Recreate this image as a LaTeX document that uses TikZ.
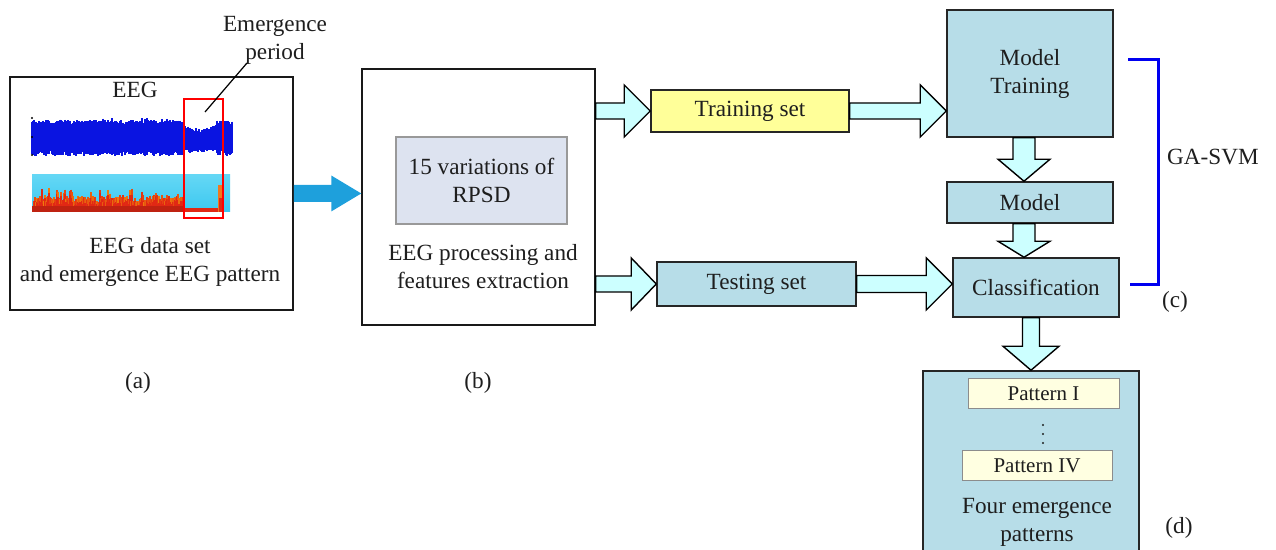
\documentclass[tikz,border=0pt]{standalone}
\usepackage{fontspec}
\setmainfont{Liberation Serif}
\usetikzlibrary{calc}
\definecolor{boxblue}{RGB}{183,221,232}
\definecolor{arrcyan}{RGB}{204,255,255}
\definecolor{trainyellow}{RGB}{255,255,153}
\definecolor{patyellow}{RGB}{255,255,225}
\definecolor{rpsdfill}{RGB}{221,227,240}
\definecolor{bigarrow}{RGB}{30,160,220}
\definecolor{eegblue}{RGB}{10,20,225}
\definecolor{speccyan}{RGB}{60,200,240}
\definecolor{speccyanlight}{RGB}{100,215,245}
\definecolor{specred}{RGB}{225,40,20}
\definecolor{specorange}{RGB}{240,120,30}
\definecolor{txt}{RGB}{30,30,30}
\definecolor{bracketblue}{RGB}{0,0,240}
% horizontal block arrow: style, start, tip, body half, head half, head length
\newcommand\rblock[6]{\path[#1] let \p1=(#2), \p2=(#3) in
  (\x1,\y1+#4) -- (\x2-#6,\y1+#4) -- (\x2-#6,\y1+#5) -- (\x2,\y1) --
  (\x2-#6,\y1-#5) -- (\x2-#6,\y1-#4) -- (\x1,\y1-#4) -- cycle;}
% downward block arrow
\newcommand\dblock[6]{\path[#1] let \p1=(#2), \p2=(#3) in
  (\x1-#4,\y1) -- (\x1-#4,\y2+#6) -- (\x1-#5,\y2+#6) -- (\x1,\y2) --
  (\x1+#5,\y2+#6) -- (\x1+#4,\y2+#6) -- (\x1+#4,\y1) -- cycle;}
\tikzset{
  lbl/.style={font=\fontsize{11.6}{14}\selectfont, text=txt, align=center, inner sep=0pt},
  whitebox/.style={draw=black!90, line width=0.75pt, fill=white, inner sep=0pt},
  bluebox/.style={draw=black!85, line width=0.75pt, fill=boxblue, inner sep=0pt, font=\fontsize{11.6}{14}\selectfont, text=txt, align=center},
  patbox/.style={draw=black!45, line width=0.5pt, fill=patyellow, inner sep=0pt, font=\fontsize{10.5}{12}\selectfont, text=txt},
  lightarrow/.style={fill=arrcyan, draw=black, line width=0.7pt, line join=miter},
  bigblue/.style={fill=bigarrow},
}
\begin{document}
\begin{tikzpicture}[x=0.5pt,y=-0.5pt]
\useasboundingbox (0,0) rectangle (1276,550);
\clip (0,0) rectangle (1276,550);

% (a) box
\node[whitebox, minimum width=141.5pt, minimum height=116.5pt] (a) at (151.5,193.5) {};
\node[lbl] (eeg) at (135,90) {EEG};
\pgfmathsetseed{3}
\foreach \i in {32,...,232} {
  \pgfmathsetmacro\inn{(\i>182 && \i<217) ? 1 : 0}
  \pgfmathsetmacro\sp{rnd<0.15 ? 2 : 0}
  \pgfmathsetmacro\tp{\inn*(124+4*sin(5.14*(\i-182))+4*rnd) + (1-\inn)*(120+4*rnd-\sp)}
  \pgfmathsetmacro\bt{\inn*(149+4*rnd) + (1-\inn)*(151+5*rnd)}
  \draw[eegblue, line width=0.6pt] (\i,\tp) -- (\i,\bt);
}
\fill[black] (32,118) circle (1.2) (32,137) circle (1.2) (32,155) circle (1.2);
\shade[top color=speccyanlight, bottom color=speccyan] (32,175) rectangle (230,212);
\foreach \i in {34,...,184} {
  \pgfmathsetmacro\sp{rnd<0.08 ? 7 : 0}
  \pgfmathsetmacro\tp{195+7*rnd-\sp}
  \pgfmathsetmacro\mix{60+40*rnd}
  \draw[specred!\mix!yellow, line width=0.6pt] (\i,\tp) -- (\i,211);
  \pgfmathsetmacro\tq{\tp+3+4*rnd}
  \draw[specred, line width=0.6pt] (\i,\tq) -- (\i,211);
}
\fill[specred!85!black] (32,206) rectangle (185,212);
\fill[specred] (185,208) rectangle (219,212);
\fill[specorange] (218,185) rectangle (222,212);
\fill[specred] (219,198) rectangle (222,212);
\draw[red, line width=0.8pt] (184,99) rectangle (223,218);
\node[lbl] (emer) at (275,40) {Emergence\\period};
\coordinate (emerend) at (205,112);
\draw[black, line width=0.6pt] (247,63) -- (emerend);
\node[lbl] (adesc) at (150,262) {EEG data set\\and emergence EEG pattern};

% (b) box
\node[whitebox, minimum width=116.5pt, minimum height=128pt] (b) at (478.5,197) {};
\node[draw=black!40, line width=0.6pt, fill=rpsdfill, minimum width=85.5pt, minimum height=43.5pt, lbl] (rpsd) at (481.5,180.5) {15 variations of\\RPSD};
\node[lbl] (bdesc) at (483,267) {EEG processing and\\features extraction};

% right column
\node[draw=black!85, line width=0.75pt, fill=trainyellow, minimum width=99pt, minimum height=21pt, lbl] (train) at (750,111) {Training set};
\node[bluebox, minimum width=99.5pt, minimum height=22pt] (test) at (756.5,284) {Testing set};
\node[bluebox, minimum width=83pt, minimum height=63.5pt] (mt) at (1030,73.5) {Model\\Training};
\node[bluebox, minimum width=83pt, minimum height=20.5pt] (m) at (1030,202.5) {Model};
\node[bluebox, minimum width=83pt, minimum height=29.5pt] (cls) at (1036,287.5) {Classification};
\node[bluebox, minimum width=108pt, minimum height=92.5pt] (out) at (1031,463.5) {};
\node[patbox, minimum width=75.5pt, minimum height=15pt] (p1) at (1043.5,394) {Pattern I};
\fill[txt] (1043,425) circle (1.1) (1043,434) circle (1.1) (1043,443) circle (1.1);
\node[patbox, minimum width=75pt, minimum height=15pt] (p4) at (1037,466) {Pattern IV};
\node[lbl] (odesc) at (1037,522) {Four emergence\\patterns};

% arrows
\rblock{bigblue}{a.east}{b.west}{4.25pt}{9pt}{15pt}
\rblock{lightarrow}{b.east |- train.west}{train.west}{4pt}{13pt}{13pt}
\rblock{lightarrow}{train.east}{train.east -| mt.west}{4pt}{13pt}{13pt}
\rblock{lightarrow}{b.east |- test.west}{test.west}{4pt}{13pt}{12.5pt}
\rblock{lightarrow}{test.east}{test.east -| cls.west}{4.25pt}{13pt}{13pt}
\dblock{lightarrow}{[xshift=-3pt]mt.south}{[xshift=-3pt]m.north}{5.5pt}{13pt}{11pt}
\dblock{lightarrow}{[xshift=-3pt]m.south}{[xshift=-3pt]cls.north}{5.5pt}{13pt}{8pt}
\dblock{lightarrow}{[xshift=-2.5pt]cls.south}{out.north}{4.25pt}{14pt}{12pt}

% GA-SVM bracket
\coordinate (brtop) at (1128,60);
\coordinate (brbot) at (1130,285);
\draw[bracketblue, line width=1.5pt] (brtop) -- (1158,60) -- (1158,285) -- (brbot);
\node[lbl] (ga) at (1213,157) {GA-SVM};

% panel labels
\node[lbl] (la) at (138,383) {(a)};
\node[lbl] (lb) at (478,383) {(b)};
\node[lbl] (lc) at (1175,302) {(c)};
\node[lbl] (ld) at (1179,528) {(d)};
\end{tikzpicture}
\end{document}
